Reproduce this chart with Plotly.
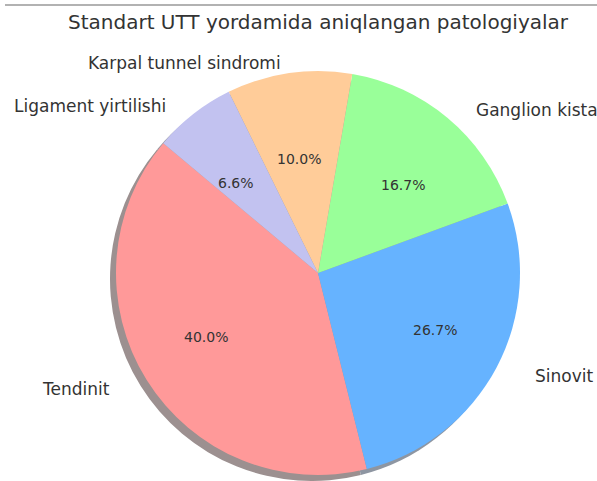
import math
import plotly.graph_objects as go

labels = ["Tendinit", "Sinovit", "Ganglion kista", "Karpal tunnel sindromi", "Ligament yirtilishi"]
values = [40.0, 26.7, 16.7, 10.0, 6.6]
colors = ["#ff9999", "#66b3ff", "#99ff99", "#ffcc99", "#c2c2f0"]
shadow_colors = ["#9c9090", "#8e96a2", "#939c93", "#9c968f", "#9898a2"]
title_text = "Standart UTT yordamida aniqlangan patologiyalar"

W, H = 597, 481
CX, CY, R = 318, 273, 202
START = 140          # start angle (deg, counter-clockwise from 3 o'clock)
ROT = (90 - START) - 360 * values[0] / 100 + 360   # plotly rotation equivalent
TCY = CY + 2         # text ellipse centre y
TX, TY = 221, 195    # text ellipse half-axes (reference pie is horizontally stretched)
LABEL_DIST, PCT_DIST = 1.1, 0.6


def dom(cx, cy, r):
    y0 = max(0.0, (H - cy - r) / H)
    y1 = min(1.0, (H - cy + r) / H)
    return dict(x=[(cx - r) / W, (cx + r) / W], y=[y0, y1])


font_family = "DejaVu Sans"
fig = go.Figure()

# shadow
fig.add_trace(go.Pie(
    labels=labels, values=values, sort=False, direction="counterclockwise", rotation=ROT,
    marker=dict(colors=shadow_colors, line=dict(width=0)),
    textinfo="none", hoverinfo="skip", showlegend=False,
    domain=dom(CX - 6, CY + 6, R),
))

# main pie
fig.add_trace(go.Pie(
    labels=labels, values=values, sort=False, direction="counterclockwise", rotation=ROT,
    marker=dict(colors=colors, line=dict(width=0)),
    textinfo="none", showlegend=False,
    hovertemplate="%{label}: %{value:.1f}%<extra></extra>",
    domain=dom(CX, CY, R),
))

# label and percentage texts derived from the values (matplotlib-style placement)
annotations = []
total = sum(values)
cum = 0.0
for lab, v in zip(labels, values):
    theta = math.radians(START + 360 * (cum + v / 2) / total)
    cum += v
    c, s = math.cos(theta), math.sin(theta)
    lx = CX + LABEL_DIST * TX * c
    ly = TCY - LABEL_DIST * TY * s
    annotations.append(dict(
        text=lab, x=lx / W, y=1 - ly / H, xref="paper", yref="paper", showarrow=False,
        xanchor="left" if c > 0 else "right", yanchor="middle",
        font=dict(family=font_family, size=17, color="#333333"),
    ))
    px = CX + PCT_DIST * TX * c
    py = TCY - PCT_DIST * TY * s
    annotations.append(dict(
        text=f"{v:.1f}%", x=px / W, y=1 - py / H, xref="paper", yref="paper", showarrow=False,
        xanchor="center", yanchor="middle",
        font=dict(family=font_family, size=14, color="#333333"),
    ))

fig.update_layout(
    width=W, height=H,
    margin=dict(l=0, r=0, t=0, b=0),
    paper_bgcolor="white",
    font=dict(family=font_family, color="#333333"),
    title=dict(text=title_text, x=318 / W, y=1 - 22 / H, xanchor="center", yanchor="middle",
               font=dict(family=font_family, size=20, color="#333333")),
    annotations=annotations,
    shapes=[dict(type="line", xref="paper", yref="paper", x0=5 / W, x1=1, y0=1 - 5 / H, y1=1 - 5 / H,
                 line=dict(color="#999999", width=1.5))],
)

fig.write_html("out.html", config={"displayModeBar": False},
               post_script="document.body.style.margin='0';")
